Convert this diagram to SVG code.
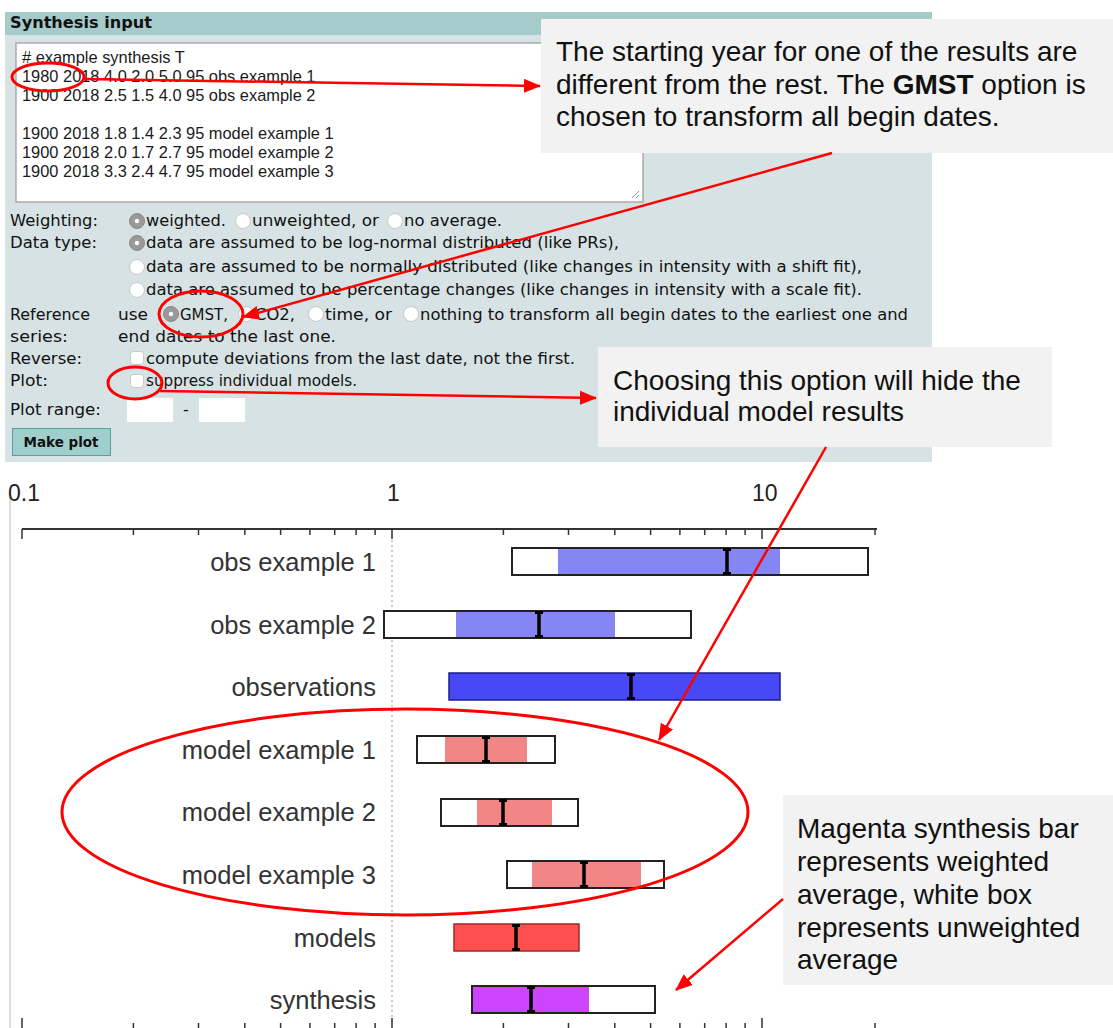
<svg xmlns="http://www.w3.org/2000/svg" width="1113" height="1028" viewBox="0 0 1113 1028">
<style>
.form{font-family:"DejaVu Sans","Liberation Sans",sans-serif;font-size:16px;fill:#111}
.ta{font-family:"Liberation Sans",Arial,sans-serif;font-size:16.4px;fill:#1a1a1a}
.call{font-family:"Liberation Sans",Arial,sans-serif;font-size:28px;fill:#111}
.lab{font-family:"Liberation Sans",Arial,sans-serif;font-size:25.5px;fill:#333;text-anchor:end}
.ax{font-family:"Liberation Sans",Arial,sans-serif;font-size:23px;fill:#222}
.cbox{fill:#f2f2f2}
.rad{fill:#fff;stroke:#c8c8c8;stroke-width:1}
.rsel{fill:#999;stroke:#888;stroke-width:1}
.chk{fill:#fff;stroke:#c8c8c8;stroke-width:1}
.outline{fill:none;stroke:#222;stroke-width:2}
.med{stroke:#000;stroke-width:3.5;fill:none}
.cap{stroke:#000;stroke-width:3;fill:none}
.tick{stroke:#333;stroke-width:1.5}
.red{fill:none;stroke:#ff0000;stroke-width:3}
.arrow{fill:none;stroke:#ff0000;stroke-width:2.5}
</style>
<defs>
<marker id="ah" markerWidth="18" markerHeight="14" refX="16" refY="7" orient="auto" markerUnits="userSpaceOnUse">
<path d="M0,0 L17,7 L0,14 Z" fill="#ff0000"/>
</marker>
</defs>
<rect width="1113" height="1028" fill="#fff"/>

<g id="panel">
<rect x="5" y="12" width="927" height="450" fill="#d6e2e4"/>
<rect x="5" y="12" width="927" height="23" fill="#a6cbcb"/>
<text x="10" y="28" class="form" style="font-weight:bold;font-size:15px" textLength="142" lengthAdjust="spacingAndGlyphs">Synthesis input</text>
</g>

<g id="textarea">
<rect x="16" y="43" width="627" height="159" fill="#fff" stroke="#999" stroke-width="1.2"/>
<path d="M632,198 L639,191 M636,198 L639,195" stroke="#999" stroke-width="1"/>
<text class="ta" x="22" y="63"># example synthesis T</text>
<text class="ta" x="22" y="82">1980 2018 4.0 2.0 5.0 95 obs example 1</text>
<text class="ta" x="22" y="101">1900 2018 2.5 1.5 4.0 95 obs example 2</text>
<text class="ta" x="22" y="139">1900 2018 1.8 1.4 2.3 95 model example 1</text>
<text class="ta" x="22" y="158">1900 2018 2.0 1.7 2.7 95 model example 2</text>
<text class="ta" x="22" y="177">1900 2018 3.3 2.4 4.7 95 model example 3</text>
</g>

<g id="form">
<text class="form" x="10" y="226" textLength="88" lengthAdjust="spacingAndGlyphs">Weighting:</text>
<circle class="rsel" cx="137" cy="221" r="7.5"/><circle cx="137" cy="221" r="2.2" fill="#fff"/>
<text class="form" x="146" y="226" textLength="80" lengthAdjust="spacingAndGlyphs">weighted.</text>
<circle class="rad" cx="243" cy="221" r="7.5"/>
<text class="form" x="252" y="226" textLength="127" lengthAdjust="spacingAndGlyphs">unweighted, or</text>
<circle class="rad" cx="395" cy="221" r="7.5"/>
<text class="form" x="404" y="226" textLength="98" lengthAdjust="spacingAndGlyphs">no average.</text>

<text class="form" x="10" y="248" textLength="87" lengthAdjust="spacingAndGlyphs">Data type:</text>
<circle class="rsel" cx="137" cy="243" r="7.5"/><circle cx="137" cy="243" r="2.2" fill="#fff"/>
<text class="form" x="146" y="248" textLength="473" lengthAdjust="spacingAndGlyphs">data are assumed to be log-normal distributed (like PRs),</text>
<circle class="rad" cx="137" cy="267" r="7.5"/>
<text class="form" x="146" y="272" textLength="716" lengthAdjust="spacingAndGlyphs">data are assumed to be normally distributed (like changes in intensity with a shift fit),</text>
<circle class="rad" cx="137" cy="290" r="7.5"/>
<text class="form" x="146" y="295" textLength="716" lengthAdjust="spacingAndGlyphs">data are assumed to be percentage changes (like changes in intensity with a scale fit).</text>

<text class="form" x="10" y="320" textLength="80" lengthAdjust="spacingAndGlyphs">Reference</text>
<text class="form" x="10" y="342" textLength="58" lengthAdjust="spacingAndGlyphs">series:</text>
<text class="form" x="118" y="320" textLength="30" lengthAdjust="spacingAndGlyphs">use</text>
<circle class="rsel" cx="171" cy="314" r="7.5"/><circle cx="171" cy="314" r="2.2" fill="#fff"/>
<text class="form" x="180" y="320" textLength="48" lengthAdjust="spacingAndGlyphs">GMST,</text>
<circle class="rad" cx="246" cy="314" r="7.5"/>
<text class="form" x="255" y="320" textLength="40" lengthAdjust="spacingAndGlyphs">CO2,</text>
<circle class="rad" cx="316" cy="314" r="7.5"/>
<text class="form" x="325" y="320" textLength="67" lengthAdjust="spacingAndGlyphs">time, or</text>
<circle class="rad" cx="411" cy="314" r="7.5"/>
<text class="form" x="420" y="320" textLength="488" lengthAdjust="spacingAndGlyphs">nothing to transform all begin dates to the earliest one and</text>
<text class="form" x="118" y="342" textLength="218" lengthAdjust="spacingAndGlyphs">end dates to the last one.</text>

<text class="form" x="10" y="364" textLength="72" lengthAdjust="spacingAndGlyphs">Reverse:</text>
<rect class="chk" x="130.5" y="351.5" width="13" height="13" rx="3"/>
<text class="form" x="146" y="364" textLength="429" lengthAdjust="spacingAndGlyphs">compute deviations from the last date, not the first.</text>

<text class="form" x="10" y="386" textLength="38" lengthAdjust="spacingAndGlyphs">Plot:</text>
<rect class="chk" x="130.5" y="374.5" width="13" height="13" rx="3"/>
<text class="form" x="146" y="386" textLength="211" lengthAdjust="spacingAndGlyphs">suppress individual models.</text>

<text class="form" x="10" y="415" textLength="91" lengthAdjust="spacingAndGlyphs">Plot range:</text>
<rect x="127" y="398" width="46" height="24" fill="#fff"/>
<text class="form" x="183" y="415">-</text>
<rect x="199" y="398" width="46" height="24" fill="#fff"/>

<rect x="12.5" y="428.5" width="98" height="27" fill="#9fcfcd" stroke="#5c9c9a" stroke-width="1"/>
<text class="form" x="61" y="447" text-anchor="middle" style="font-weight:bold;font-size:13.5px">Make plot</text>
</g>

<g id="axis">
<line x1="10" y1="497" x2="10" y2="1028" stroke="#bbb" stroke-width="1"/>
<text class="ax" x="8" y="501">0.1</text>
<text class="ax" x="387" y="501">1</text>
<text class="ax" x="752" y="501">10</text>
<line x1="22" y1="529" x2="877" y2="529" stroke="#333" stroke-width="2"/>
<line x1="392" y1="530" x2="392" y2="1028" stroke="#999" stroke-width="1" stroke-dasharray="2,3"/>
<g class="tick">
<line x1="22" y1="529" x2="22" y2="539"/><line x1="392" y1="529" x2="392" y2="539"/><line x1="762" y1="529" x2="762" y2="539"/>
<line x1="133.4" y1="529" x2="133.4" y2="535"/><line x1="198.5" y1="529" x2="198.5" y2="535"/><line x1="244.8" y1="529" x2="244.8" y2="535"/><line x1="280.6" y1="529" x2="280.6" y2="535"/><line x1="309.9" y1="529" x2="309.9" y2="535"/><line x1="334.7" y1="529" x2="334.7" y2="535"/><line x1="356.1" y1="529" x2="356.1" y2="535"/><line x1="375.1" y1="529" x2="375.1" y2="535"/>
<line x1="503.4" y1="529" x2="503.4" y2="535"/><line x1="568.5" y1="529" x2="568.5" y2="535"/><line x1="614.8" y1="529" x2="614.8" y2="535"/><line x1="650.6" y1="529" x2="650.6" y2="535"/><line x1="679.9" y1="529" x2="679.9" y2="535"/><line x1="704.7" y1="529" x2="704.7" y2="535"/><line x1="726.1" y1="529" x2="726.1" y2="535"/><line x1="745.1" y1="529" x2="745.1" y2="535"/>
<line x1="875" y1="529" x2="875" y2="535"/>
<line x1="22" y1="1018" x2="22" y2="1028"/><line x1="392" y1="1018" x2="392" y2="1028"/><line x1="762" y1="1018" x2="762" y2="1028"/>
<line x1="133.4" y1="1023" x2="133.4" y2="1028"/><line x1="198.5" y1="1023" x2="198.5" y2="1028"/><line x1="244.8" y1="1023" x2="244.8" y2="1028"/><line x1="280.6" y1="1023" x2="280.6" y2="1028"/><line x1="309.9" y1="1023" x2="309.9" y2="1028"/><line x1="334.7" y1="1023" x2="334.7" y2="1028"/><line x1="356.1" y1="1023" x2="356.1" y2="1028"/><line x1="375.1" y1="1023" x2="375.1" y2="1028"/>
<line x1="503.4" y1="1023" x2="503.4" y2="1028"/><line x1="568.5" y1="1023" x2="568.5" y2="1028"/><line x1="614.8" y1="1023" x2="614.8" y2="1028"/><line x1="650.6" y1="1023" x2="650.6" y2="1028"/><line x1="679.9" y1="1023" x2="679.9" y2="1028"/><line x1="704.7" y1="1023" x2="704.7" y2="1028"/><line x1="726.1" y1="1023" x2="726.1" y2="1028"/><line x1="745.1" y1="1023" x2="745.1" y2="1028"/>
<line x1="875" y1="1023" x2="875" y2="1028"/>
</g>
</g>

<g id="row-obs1">
<text class="lab" x="376" y="571">obs example 1</text>
<rect x="512" y="548" width="356" height="27" fill="#fff"/>
<rect x="558" y="548" width="222" height="27" fill="#8686f2"/>
<rect class="outline" x="512" y="548" width="356" height="27"/>
<path class="med" d="M727,549 V574"/><path class="cap" d="M723,549.5 H731 M723,573.5 H731"/>
</g>
<g id="row-obs2">
<text class="lab" x="376" y="634">obs example 2</text>
<rect x="384" y="611" width="307" height="27" fill="#fff"/>
<rect x="456" y="611" width="159" height="27" fill="#8686f2"/>
<rect class="outline" x="384" y="611" width="307" height="27"/>
<path class="med" d="M539,612 V637"/><path class="cap" d="M535,612.5 H543 M535,636.5 H543"/>
</g>
<g id="row-observations">
<text class="lab" x="376" y="696">observations</text>
<rect x="449" y="673" width="331" height="27" fill="#4848f6" stroke="#1c1c90" stroke-width="1.5"/>
<path class="med" d="M631,674 V699"/><path class="cap" d="M627,674.5 H635 M627,698.5 H635"/>
</g>
<g id="row-model1">
<text class="lab" x="376" y="759">model example 1</text>
<rect x="417" y="736" width="138" height="27" fill="#fff"/>
<rect x="445" y="736" width="82" height="27" fill="#f28585"/>
<rect class="outline" x="417" y="736" width="138" height="27"/>
<path class="med" d="M486,737 V762"/><path class="cap" d="M482,737.5 H490 M482,761.5 H490"/>
</g>
<g id="row-model2">
<text class="lab" x="376" y="821">model example 2</text>
<rect x="441" y="799" width="137" height="27" fill="#fff"/>
<rect x="477" y="799" width="75" height="27" fill="#f28585"/>
<rect class="outline" x="441" y="799" width="137" height="27"/>
<path class="med" d="M503,800 V825"/><path class="cap" d="M499,800.5 H507 M499,824.5 H507"/>
</g>
<g id="row-model3">
<text class="lab" x="376" y="884">model example 3</text>
<rect x="507" y="861" width="157" height="27" fill="#fff"/>
<rect x="532" y="861" width="109" height="27" fill="#f28585"/>
<rect class="outline" x="507" y="861" width="157" height="27"/>
<path class="med" d="M584,862 V887"/><path class="cap" d="M580,862.5 H588 M580,886.5 H588"/>
</g>
<g id="row-models">
<text class="lab" x="376" y="947">models</text>
<rect x="454" y="924" width="125" height="27" fill="#ff4f4f" stroke="#a02828" stroke-width="1.5"/>
<path class="med" d="M516,925 V950"/><path class="cap" d="M512,925.5 H520 M512,949.5 H520"/>
</g>
<g id="row-synthesis">
<text class="lab" x="376" y="1009">synthesis</text>
<rect x="472" y="986" width="183" height="27" fill="#fff"/>
<rect x="472" y="986" width="117" height="27" fill="#cc44ff"/>
<rect class="outline" x="472" y="986" width="183" height="27"/>
<path class="med" d="M531,987 V1012"/><path class="cap" d="M527,987.5 H535 M527,1011.5 H535"/>
</g>

<g id="callout-gmst">
<rect class="cbox" x="541" y="19" width="572" height="134"/>
<text class="call" x="556" y="61">The starting year for one of the results are</text>
<text class="call" x="556" y="94">different from the rest. The <tspan font-weight="bold">GMST</tspan> option is</text>
<text class="call" x="556" y="126">chosen to transform all begin dates.</text>
</g>
<g id="callout-hide">
<rect class="cbox" x="598" y="347" width="454" height="100"/>
<text class="call" x="613" y="390">Choosing this option will hide the</text>
<text class="call" x="613" y="421">individual model results</text>
</g>
<g id="callout-magenta">
<rect class="cbox" x="783" y="795" width="330" height="190"/>
<text class="call" x="797" y="838">Magenta synthesis bar</text>
<text class="call" x="797" y="871">represents weighted</text>
<text class="call" x="797" y="904">average, white box</text>
<text class="call" x="797" y="937">represents unweighted</text>
<text class="call" x="797" y="969">average</text>
</g>

<g id="highlights">
<ellipse class="red" cx="48" cy="77" rx="36" ry="14"/>
<ellipse class="red" cx="201" cy="314" rx="42" ry="23"/>
<ellipse class="red" cx="135" cy="383" rx="27" ry="16"/>
<ellipse class="red" cx="405" cy="812" rx="343" ry="103"/>
</g>

<g id="connectors">
<line class="arrow" x1="84" y1="79" x2="540" y2="86" marker-end="url(#ah)"/>
<line class="arrow" x1="832" y1="153" x2="243" y2="317" marker-end="url(#ah)"/>
<line class="arrow" x1="160" y1="391" x2="596" y2="398" marker-end="url(#ah)"/>
<line class="arrow" x1="826" y1="447" x2="659" y2="740" marker-end="url(#ah)"/>
<line class="arrow" x1="783" y1="899" x2="676" y2="990" marker-end="url(#ah)"/>
</g>
</svg>
